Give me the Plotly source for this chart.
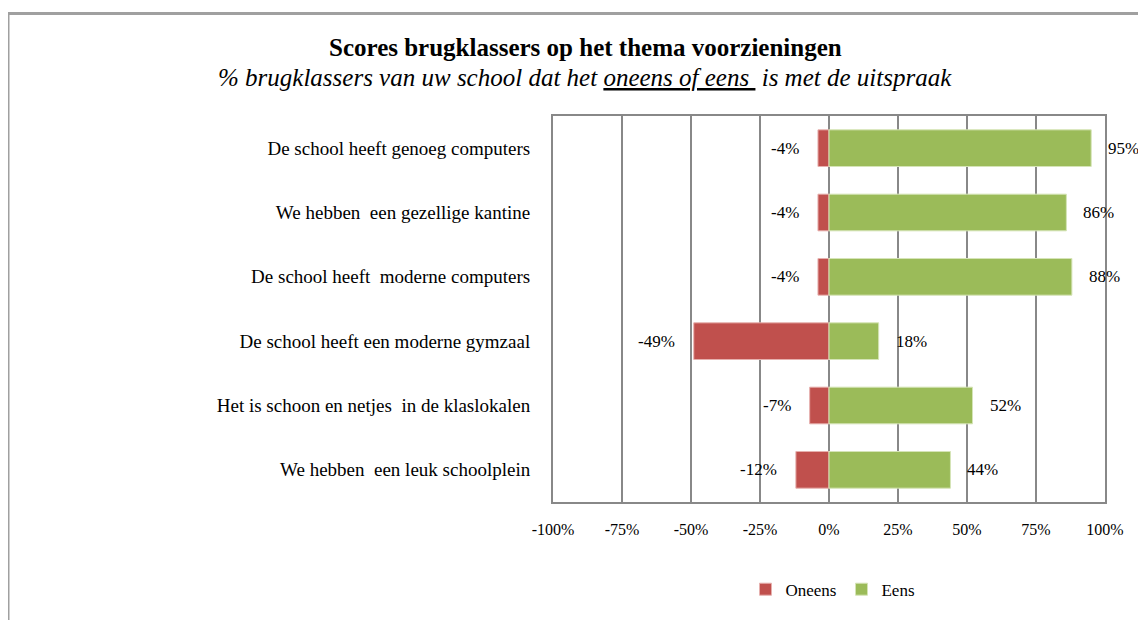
import plotly.graph_objects as go

# data
stellingen = [
    "De school heeft genoeg computers",
    "We hebben  een gezellige kantine",
    "De school heeft  moderne computers",
    "De school heeft een moderne gymzaal",
    "Het is schoon en netjes  in de klaslokalen",
    "We hebben  een leuk schoolplein",
]
oneens = [-4, -4, -4, -49, -7, -12]
eens = [95, 86, 88, 18, 52, 44]
x_ticks = [-100, -75, -50, -25, 0, 25, 50, 75, 100]

RED = "#C0504D"
GREEN = "#9BBB59"
GRID = "#888888"
FONT = "Liberation Serif"

# de pagina heeft 8px body-marge, daar wordt hier rekening mee gehouden
W, H = 1138, 612
ML, MR, MT, MB = 545, 41, 108, 112
pw, ph = W - ML - MR, H - MT - MB

fig = go.Figure()
fig.add_trace(go.Bar(y=stellingen, x=oneens, orientation="h", name="Oneens",
                     marker=dict(color=RED, line=dict(color="#E6B0AE", width=1))))
fig.add_trace(go.Bar(y=stellingen, x=eens, orientation="h", name="Eens",
                     marker=dict(color=GREEN, line=dict(color="#D5E4B7", width=1))))

# waarde labels naast de balken
for s, v in zip(stellingen, oneens):
    fig.add_annotation(x=v, y=s, text=f"{v}%", showarrow=False, xanchor="right",
                       xshift=-17, font=dict(family=FONT, size=17, color="black"))
for s, v in zip(stellingen, eens):
    fig.add_annotation(x=v, y=s, text=f"{v}%", showarrow=False, xanchor="left",
                       xshift=15, font=dict(family=FONT, size=17, color="black"))

# titel
cx = (577 - ML) / pw
fig.add_annotation(xref="paper", yref="paper", x=cx, y=1 + (MT - 38) / ph,
                   text="<b>Scores brugklassers op het thema voorzieningen</b>",
                   showarrow=False, xanchor="center", yanchor="middle",
                   font=dict(family=FONT, size=25, color="black"))
fig.add_annotation(xref="paper", yref="paper", x=cx, y=1 + (MT - 69) / ph,
                   text="<i>% brugklassers van uw school dat het <u>oneens of eens </u> is met de uitspraak</i>",
                   showarrow=False, xanchor="center", yanchor="middle",
                   font=dict(family=FONT, size=25, color="black"))

# kader om de grafiek
fig.add_shape(type="rect", xref="paper", yref="paper",
              x0=(0 - ML) / pw, x1=(W + 20 - ML) / pw,
              y0=-(H + 20 - MT - ph) / ph, y1=1 + (MT - 4) / ph,
              line=dict(color="#A0A0A0", width=3), layer="below")

fig.update_layout(
    width=W, height=H,
    margin=dict(l=ML, r=MR, t=MT, b=MB),
    barmode="relative",
    bargap=0.43,
    plot_bgcolor="white",
    paper_bgcolor="white",
    font=dict(family=FONT, size=16, color="black"),
    showlegend=True,
    legend=dict(orientation="h", x=(825 - ML) / pw, xanchor="center",
                y=-(589 - (H - MB)) / ph, yanchor="middle",
                font=dict(family=FONT, size=17), itemwidth=30, tracegroupgap=0),
)
fig.update_xaxes(range=[-100, 100], tickvals=x_ticks, ticktext=[f"{t}%" for t in x_ticks],
                 showgrid=True, gridcolor=GRID, gridwidth=2, zeroline=False,
                 showline=True, linecolor=GRID, linewidth=2, mirror=True,
                 ticks="", ticklabelstandoff=12, tickfont=dict(size=16), fixedrange=True)
fig.update_yaxes(autorange="reversed", showgrid=False, zeroline=False,
                 showline=True, linecolor=GRID, linewidth=2, mirror=True,
                 ticks="", ticklabelstandoff=17, tickfont=dict(size=19), fixedrange=True)

fig.write_html("out.html")
